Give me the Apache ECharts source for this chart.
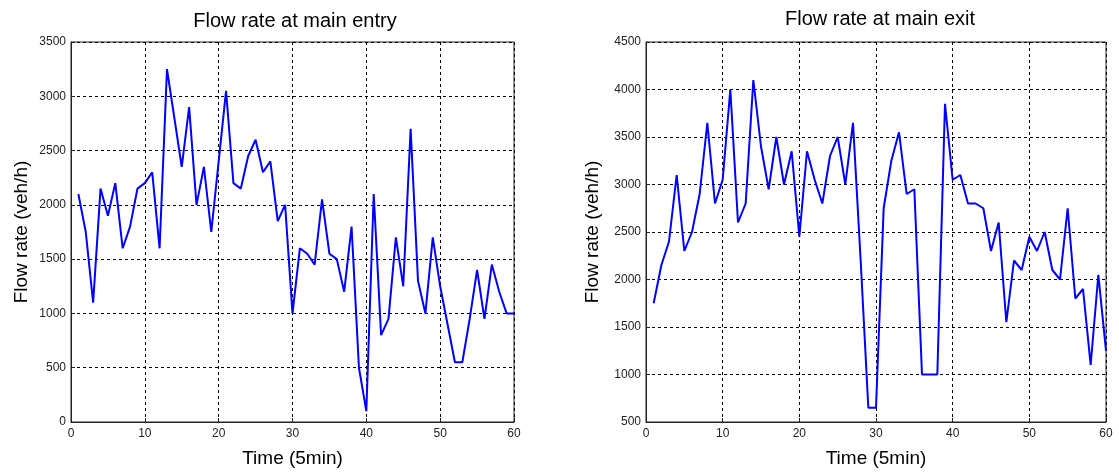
<!DOCTYPE html>
<html>
<head>
	<meta charset="utf-8">
	<title>Flow rate</title>
	<script type="text/javascript" src="https://cdn.jsdelivr.net/npm/echarts@6/dist/echarts.min.js"></script>
	<style type="text/css">
		html, body { margin: 0; padding: 0; background: #fff; }
		#chart { width: 1119px; height: 475px; }
	</style>
</head>
<body>
	<div id="chart"></div>
<script type="text/javascript">
	// time steps (5 min)
	var timeSteps = [];
	for (var i = 1; i <= 60; i++) timeSteps.push(i);

	// flow rate at main entry (veh/h)
	var entryFlow = [2100, 1750, 1100, 2150, 1900, 2200, 1600, 1800, 2150, 2200,
		2300, 1600, 3250, 2800, 2350, 2900, 2000, 2350, 1750, 2400,
		3050, 2200, 2150, 2450, 2600, 2300, 2400, 1850, 2000, 1000,
		1600, 1550, 1450, 2050, 1550, 1500, 1200, 1800, 500, 100,
		2100, 800, 950, 1700, 1250, 2700, 1300, 1000, 1700, 1250,
		900, 550, 550, 950, 1400, 950, 1450, 1200, 1000, 1000];

	// flow rate at main exit (veh/h)
	var exitFlow = [1750, 2150, 2400, 3100, 2300, 2500, 2900, 3650, 2800, 3050,
		4000, 2600, 2800, 4100, 3400, 2950, 3500, 3000, 3350, 2450,
		3350, 3050, 2800, 3300, 3500, 3000, 3650, 2200, 650, 650,
		2750, 3250, 3550, 2900, 2950, 1000, 1000, 1000, 3850, 3050,
		3100, 2800, 2800, 2750, 2300, 2600, 1550, 2200, 2100, 2450,
		2300, 2500, 2100, 2000, 2750, 1800, 1900, 1100, 2050, 1250];

	var titles = ['Flow rate at main entry', 'Flow rate at main exit'];
	var yRanges = [[0, 3500], [500, 4500]];

	function pairs(vals) {
		return vals.map(function (v, i) { return [timeSteps[i], v]; });
	}

	var font = 'Liberation Sans, Arial, sans-serif';
	var dashed = { show: true, lineStyle: { color: '#000', type: [3, 3], width: 1 } };
	// plain numbers, no thousands separator
	var plain = function (v) { return String(v); };

	function xAxisCfg(idx) {
		return {
			type: 'value', gridIndex: idx, min: 0, max: 60, interval: 10,
			name: 'Time (5min)', nameLocation: 'middle', nameGap: 27,
			nameTextStyle: { fontFamily: font, fontSize: 19, color: '#000' },
			axisLine: { show: true, onZero: false, lineStyle: { color: '#222' } },
			axisTick: { inside: true, length: 4, lineStyle: { color: '#222' } },
			axisLabel: { fontFamily: font, fontSize: 12, color: '#222', margin: 6, formatter: plain },
			splitLine: dashed
		};
	}
	function yAxisCfg(idx, gap) {
		return {
			type: 'value', gridIndex: idx, min: yRanges[idx][0], max: yRanges[idx][1], interval: 500,
			name: 'Flow rate (veh/h)', nameLocation: 'middle', nameGap: gap,
			nameTextStyle: { fontFamily: font, fontSize: 19, color: '#000' },
			axisLine: { show: true, lineStyle: { color: '#222' } },
			axisTick: { inside: true, length: 4, lineStyle: { color: '#222' } },
			axisLabel: { fontFamily: font, fontSize: 12, color: '#222', margin: 5, formatter: plain },
			splitLine: dashed
		};
	}

	var myChart = echarts.init(document.getElementById('chart'));
	var option = {
		backgroundColor: '#fff',
		animation: false,
		title: [
			{ text: titles[0], left: 290, top: 6, textAlign: 'center',
				textStyle: { fontFamily: font, fontSize: 20, fontWeight: 'normal', color: '#000' } },
			{ text: titles[1], left: 875, top: 4, textAlign: 'center',
				textStyle: { fontFamily: font, fontSize: 20, fontWeight: 'normal', color: '#000' } }
		],
		grid: [
			{ left: 71, top: 42, width: 443, height: 380, show: true, borderColor: '#222', borderWidth: 1, containLabel: false },
			{ left: 646, top: 42, width: 460, height: 380, show: true, borderColor: '#222', borderWidth: 1, containLabel: false }
		],
		xAxis: [xAxisCfg(0), xAxisCfg(1)],
		yAxis: [yAxisCfg(0, 40), yAxisCfg(1, 44)],
		series: [
			{ type: 'line', xAxisIndex: 0, yAxisIndex: 0, data: pairs(entryFlow), showSymbol: false,
				lineStyle: { color: '#0000ff', width: 2 } },
			{ type: 'line', xAxisIndex: 1, yAxisIndex: 1, data: pairs(exitFlow), showSymbol: false,
				lineStyle: { color: '#0000ff', width: 2 } }
		]
	};
	myChart.setOption(option);
</script>
</body>
</html>
